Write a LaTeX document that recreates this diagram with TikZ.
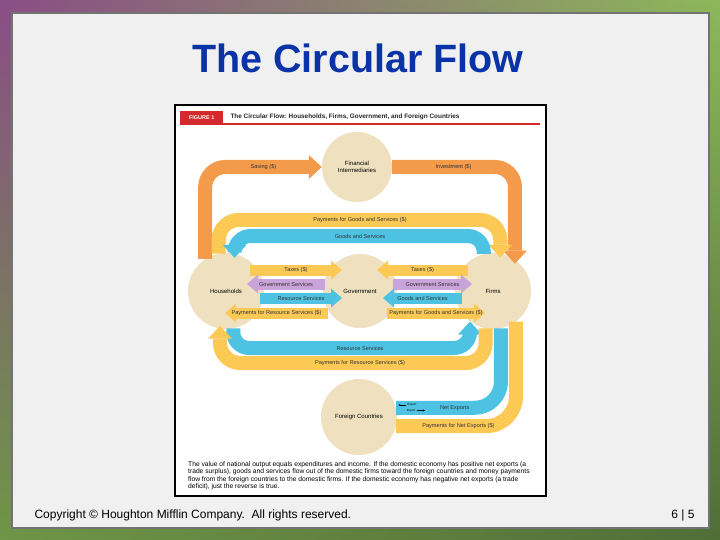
\documentclass[tikz,border=0pt]{standalone}
\usepackage{fontspec}
\setmainfont{Liberation Sans}
\usetikzlibrary{arrows.meta,calc,shadings}

\definecolor{flowOrange}{HTML}{F39A4B}
\definecolor{flowYellow}{HTML}{FCC955}
\definecolor{flowBlue}{HTML}{4EC2E2}
\definecolor{flowPurple}{HTML}{C9A3D9}
\definecolor{sectorFill}{HTML}{EFE1C0}
\definecolor{titleBlue}{HTML}{0A33A8}
\definecolor{figRed}{HTML}{D42A2E}
\definecolor{panelGray}{HTML}{F0F0F0}
\definecolor{rimPurple}{HTML}{8A4D86}
\definecolor{rimGreen}{HTML}{8DB85A}
\definecolor{rimMoss}{HTML}{6E9646}
\definecolor{rimDark}{HTML}{4F6E37}

\tikzset{
  sectorcirc/.style={circle, fill=sectorFill, minimum size=76pt, inner sep=0pt, align=center, font=\fontsize{6}{6.6}\selectfont},
  flowloop/.style={line width=14pt, rounded corners=20pt},
  flowbar/.style={line width=11pt},
  bighead/.style={-{Triangle[width=24pt,length=13pt,line width=0pt]}},
  smallhead/.style={-{Triangle[width=19pt,length=11pt,line width=0pt]}},
  flowtext/.style={font=\fontsize{5.6}{6}\selectfont, text=black!80},
}

\begin{document}
\begin{tikzpicture}[x=1pt,y=1pt]
\useasboundingbox (0,0) rectangle (720,-540);

% slide frame
\shade[upper left=rimPurple, upper right=rimGreen, lower left=rimMoss, lower right=rimDark] (0,0) rectangle (720,-540);
\draw[fill=panelGray, draw=black!55, line width=1.2pt] (12,-13) rectangle (709,-528);
\node[font=\fontsize{39.5}{42}\selectfont\bfseries, text=titleBlue] (title) at (358,-58) {The Circular Flow};
\node[anchor=west, font=\fontsize{12}{14}\selectfont] (copy) at (31,-515) {Copyright © Houghton Mifflin Company.\ \ All rights reserved.};
\node[font=\fontsize{12}{14}\selectfont] (pageno) at (683,-515) {6 | 5};

% figure box
\draw[fill=white, line width=2pt] (175,-105) rectangle (546,-496);
\node[fill=figRed, text=white, font=\fontsize{5.5}{6}\selectfont\bfseries, minimum width=43pt, minimum height=13pt, inner sep=0pt, anchor=south west] (fignum) at (180,-124) {FIGURE 1};
\node[anchor=west, font=\fontsize{6.4}{7}\selectfont\bfseries, text=black!85] (figtitle) at (227,-117) {The Circular Flow: Households, Firms, Government, and Foreign Countries};
\draw[figRed, line width=1.2pt] (180,-124) -- (540,-124);

% sectors
\node[sectorcirc, minimum size=70pt] (fi) at (357,-167) {Financial\\Intermediaries};
\node[sectorcirc] (hh) at (226,-291) {Households};
\node[sectorcirc, minimum size=74pt] (gov) at (360,-291) {Government};
\node[sectorcirc] (fm) at (493,-291) {Firms};
\node[sectorcirc] (fc) at (359,-417) {Foreign Countries};

\coordinate (gstop) at (360,-220);
\coordinate (gdtop) at (360,-236);
\coordinate (rsbot) at (360,-348);
\coordinate (prbot) at (360,-363);

% outer loops
\draw[flowloop, flowOrange, bighead] (hh.123) |- (fi.west) node[flowtext, pos=0.75]{Saving (\$)};
\draw[flowloop, flowOrange, bighead] (fi.east) -| ([yshift=-4pt]fm.55) node[flowtext, pos=0.25]{Investment (\$)};
\draw[flowloop, flowYellow, bighead] (hh.101) |- (gstop) node[flowtext]{Payments for Goods and Services (\$)} -| ([yshift=-4pt]fm.79);
\draw[flowloop, flowBlue, bighead, rounded corners=16pt] (fm.104) |- (gdtop) node[flowtext]{Goods and Services} -| ([yshift=-4pt]hh.77);
\draw[flowloop, flowBlue, bighead, rounded corners=16pt] (hh.-79) |- (rsbot) node[flowtext]{Resource Services} -| (fm.233);
\draw[flowloop, flowYellow, bighead] (fm.259) |- (prbot) node[flowtext]{Payments for Resource Services (\$)} -| ([yshift=3pt]hh.261);

% net exports
\draw[flowloop, flowBlue, rounded corners=26pt] (fm.-78) |- (fc.14) node[flowtext, pos=0.72]{Net Exports};
\draw[flowloop, flowYellow, rounded corners=30pt] (fm.-53) |- (fc.-14) node[flowtext, pos=0.74]{Payments for Net Exports (\$)};
\node[font=\fontsize{3}{3}\selectfont, inner sep=0pt] (export) at (412,-405) {Export};
\node[font=\fontsize{3}{3}\selectfont, inner sep=0pt] (import) at (411,-410.5) {Import};
\draw[-{Stealth[length=2pt,width=2pt]}, line width=0.4pt] ([xshift=-1pt]export.west) -- ++(-8,0);
\draw[-{Stealth[length=2pt,width=2pt]}, line width=0.4pt] ([xshift=1.5pt]import.east) -- ++(8,0);

% households <-> government
\draw[flowbar, flowYellow, smallhead] ($(hh)+(24,21)$) -- ($(gov)+(-18,21)$) node[flowtext, midway]{Taxes (\$)};
\draw[flowbar, flowPurple, smallhead] ($(gov)+(-35,7)$) -- ($(hh)+(21,7)$) node[flowtext, midway]{Government Services};
\draw[flowbar, flowBlue, smallhead] ($(hh)+(34,-7)$) -- ($(gov)+(-18,-7)$) node[flowtext, midway]{Resource Services};
\draw[flowbar, flowYellow, smallhead] ($(gov)+(-32,-22)$) -- ($(hh)+(-1,-22)$) node[flowtext, midway]{Payments for Resource Services (\$)};

% firms <-> government
\draw[flowbar, flowYellow, smallhead] ($(fm)+(-25,21)$) -- ($(gov)+(17,21)$) node[flowtext, midway]{Taxes (\$)};
\draw[flowbar, flowPurple, smallhead] ($(gov)+(33,7)$) -- ($(fm)+(-21,7)$) node[flowtext, midway]{Government Services};
\draw[flowbar, flowBlue, smallhead] ($(fm)+(-31,-7)$) -- ($(gov)+(23,-7)$) node[flowtext, midway]{Goods and Services};
\draw[flowbar, flowYellow, smallhead] ($(gov)+(27,-22)$) -- ($(fm)+(-8,-22)$) node[flowtext, midway]{Payments for Goods and Services (\$)};

% caption
\node[anchor=north west, align=left, inner sep=0pt, font=\fontsize{6.7}{7.6}\selectfont] (caption) at (188,-461) {The value of national output equals expenditures and income. If the domestic economy has positive net exports (a\\trade surplus), goods and services flow out of the domestic firms toward the foreign countries and money payments\\flow from the foreign countries to the domestic firms. If the domestic economy has negative net exports (a trade\\deficit), just the reverse is true.};
\end{tikzpicture}
\end{document}
